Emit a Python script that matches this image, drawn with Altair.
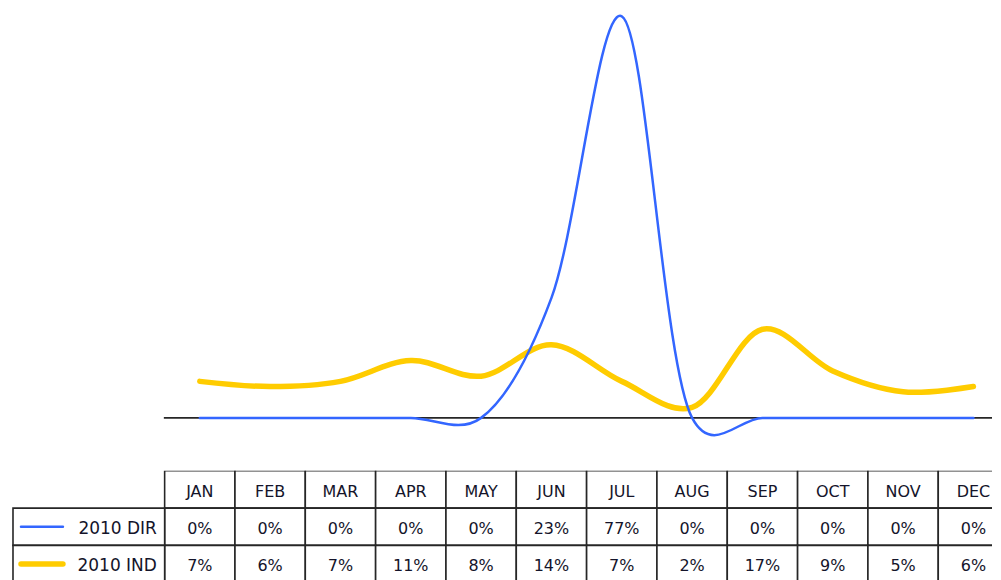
import altair as alt
import pandas as pd

months = ["JAN", "FEB", "MAR", "APR", "MAY", "JUN", "JUL", "AUG", "SEP", "OCT", "NOV", "DEC"]
dir_2010 = [0.00, 0.00, 0.00, 0.00, 0.00, 0.23, 0.77, 0.00, 0.00, 0.00, 0.00, 0.00]
ind_2010 = [0.07, 0.06, 0.07, 0.11, 0.08, 0.14, 0.07, 0.02, 0.17, 0.09, 0.05, 0.06]
series_names = ["2010 DIR", "2010 IND"]
series_colors = ["#3366FF", "#FFCC00"]
series_widths = [2.5, 5.5]
rows = ["head", "2010 DIR", "2010 IND"]

FONT = "DejaVu Sans"
GRID = "#262626"
TEXT = "#14142a"

recs = []
for s, vals in zip(series_names, [dir_2010, ind_2010]):
    for i, (m, v) in enumerate(zip(months, vals)):
        recs.append({"series": s, "month": m, "idx": i, "lo": i - 0.5, "hi": i + 0.5, "value": v})
long_df = pd.DataFrame(recs)
head_df = pd.DataFrame({"month": months, "idx": list(range(len(months))),
                        "lo": [i - 0.5 for i in range(len(months))],
                        "hi": [i + 0.5 for i in range(len(months))],
                        "row": "head"})
label_df = pd.DataFrame({"row": series_names, "series": series_names})

W = 985
COLW = 70.4
X0 = 192
x_dom = [-X0 / COLW, (W - X0) / COLW]
xs = alt.Scale(domain=x_dom, nice=False, zero=False)
y_dom = [-42 / 522.08, 410 / 522.08]
ys = alt.Scale(domain=y_dom, nice=False, zero=False)

color = alt.Color("series:N", scale=alt.Scale(domain=series_names, range=series_colors), legend=None)
width_enc = alt.StrokeWidth("series:N", scale=alt.Scale(domain=series_names, range=series_widths), legend=None)

zero_rule = alt.Chart(pd.DataFrame({"z": [0.0]})).mark_rule(color=GRID, strokeWidth=1.6).encode(
    x=alt.value(156),
    x2=alt.value(W),
    y=alt.Y("z:Q", scale=ys, axis=None),
)
lines = alt.Chart(long_df).mark_line(interpolate="catmull-rom", tension=0.2, clip=True, strokeCap="round").encode(
    x=alt.X("idx:Q", scale=xs, axis=None),
    y=alt.Y("value:Q", scale=ys, axis=None),
    color=color,
    strokeWidth=width_enc,
    order=alt.Order("idx:Q"),
)
ind_line = lines.transform_filter(alt.datum.series == "2010 IND")
dir_line = lines.transform_filter(alt.datum.series == "2010 DIR")
top = alt.layer(zero_rule, ind_line, dir_line).properties(width=W, height=452)

yb = alt.Scale(domain=rows, paddingInner=0, paddingOuter=0)
head_cells = alt.Chart(head_df).mark_rect(fill="white", stroke=GRID, strokeWidth=1.6, clip=True).encode(
    x=alt.X("lo:Q", scale=xs, axis=None), x2="hi:Q",
    y=alt.Y("row:N", scale=yb, axis=None),
)
head_text = alt.Chart(head_df).mark_text(font=FONT, fontSize=16, color=TEXT, clip=True,
                                         baseline="middle", dy=3).encode(
    x=alt.X("idx:Q", scale=xs, axis=None),
    y=alt.Y("row:N", scale=yb, axis=None, bandPosition=0.5),
    text="month:N",
)
val_cells = alt.Chart(long_df).mark_rect(fill="white", stroke=GRID, strokeWidth=1.6, clip=True).encode(
    x=alt.X("lo:Q", scale=xs, axis=None), x2="hi:Q",
    y=alt.Y("series:N", scale=yb, axis=None),
)
val_text = alt.Chart(long_df).mark_text(font=FONT, fontSize=16, color=TEXT, clip=True,
                                        baseline="middle", dy=2).encode(
    x=alt.X("idx:Q", scale=xs, axis=None),
    y=alt.Y("series:N", scale=yb, axis=None, bandPosition=0.5),
    text=alt.Text("value:Q", format=".0%"),
)
label_cells = alt.Chart(label_df).mark_rect(fill="white", stroke=GRID, strokeWidth=1.6).encode(
    x=alt.value(5), x2=alt.value(X0 - COLW / 2),
    y=alt.Y("row:N", scale=yb, axis=None),
)
label_text = alt.Chart(label_df).mark_text(font=FONT, fontSize=17, color=TEXT, align="right",
                                           baseline="middle", dy=2).encode(
    x=alt.value(149),
    y=alt.Y("row:N", scale=yb, axis=None, bandPosition=0.5),
    text="series:N",
)
label_keys = alt.Chart(label_df).mark_rule(strokeCap="round").encode(
    x=alt.value(13), x2=alt.value(55),
    y=alt.Y("row:N", scale=yb, axis=None, bandPosition=0.5),
    color=color,
    strokeWidth=width_enc,
)
bottom = alt.layer(head_cells, val_cells, label_cells, head_text, val_text, label_text, label_keys).properties(
    width=W, height=112)

chart = alt.vconcat(top, bottom, spacing=11).properties(padding=0).configure_view(stroke=None)

chart.save("out.html", embed_options={"renderer": "svg", "actions": False})
